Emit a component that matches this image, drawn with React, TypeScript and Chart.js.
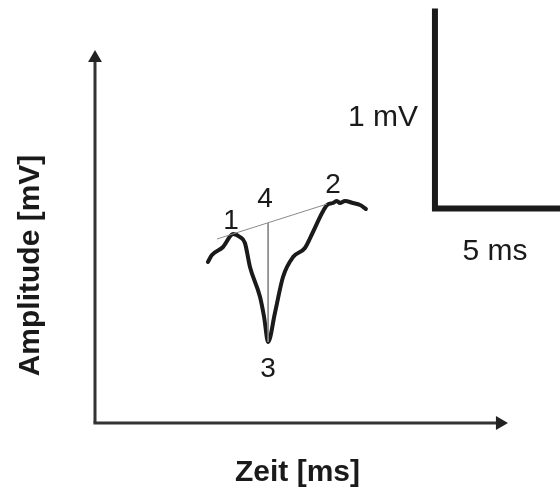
import React, { useEffect, useRef } from 'react';
import { Chart, registerables } from 'chart.js';

Chart.register(...registerables);

// Recorded waveform (time in ms, amplitude in mV)
const timeMs = [4.48, 4.64, 5.08, 5.48, 5.75, 5.95, 6.15, 6.55, 6.71, 6.87, 7.14, 7.46, 7.86, 8.33, 8.65, 9.01, 9.21, 9.44, 9.6, 9.72, 9.92, 10.24, 10.52, 10.75];
const amplitudeMv = [0.805, 0.84, 0.88, 0.945, 0.93, 0.9, 0.78, 0.63, 0.53, 0.405, 0.55, 0.73, 0.83, 0.875, 0.955, 1.05, 1.09, 1.1, 1.11, 1.1, 1.11, 1.1, 1.09, 1.07];

// Baseline between the two peaks (1 -> 2) and the marker at the trough (4 -> 3)
const baselineMs = [4.84, 9.21];
const baselineMv = [0.92, 1.095];
const markerMs = [6.87, 6.87];
const markerMv = [1.0, 0.405];

// Axis extents (arrow heads)
const axisXMaxMs = 16.07;
const axisYMaxMv = 1.825;

// Scale bar
const scaleBarOriginMs = 13.49;
const scaleBarOriginMv = 1.0725;
const scaleBarMs = 5;
const scaleBarMv = 1;

const pointLabels = ['1', '2', '3', '4'];
const scaleBarLabels = ['1 mV', '5 ms'];
const axisTitles = ['Zeit [ms]', 'Amplitude [mV]'];

const FONT = '"Liberation Sans", Arial, Helvetica, sans-serif';
const INK = '#1a1a1a';

const textPlugin = {
  id: 'figureTexts',
  afterDatasetsDraw(chart: any) {
    const { ctx, scales } = chart;
    const x = scales.x;
    const y = scales.y;
    const px = (v: number) => x.getPixelForValue(v);
    const py = (v: number) => y.getPixelForValue(v);
    ctx.save();
    ctx.fillStyle = INK;
    ctx.textBaseline = 'alphabetic';

    // point labels
    ctx.font = `28px ${FONT}`;
    ctx.textAlign = 'center';
    const peak1 = 3;
    const peak2 = 18;
    const trough = 9;
    ctx.fillText(pointLabels[0], px(timeMs[peak1]) - 2, py(amplitudeMv[peak1]) - 5);
    ctx.fillText(pointLabels[1], px(timeMs[peak2]) - 4, py(amplitudeMv[peak2]) - 8);
    ctx.fillText(pointLabels[2], px(timeMs[trough]), py(amplitudeMv[trough]) + 35);
    ctx.fillText(pointLabels[3], px(markerMs[0]) - 3, py(markerMv[0]) - 16);

    // scale bar labels
    ctx.font = `30px ${FONT}`;
    const bx = px(scaleBarOriginMs);
    const by = py(scaleBarOriginMv);
    const byTop = py(scaleBarOriginMv + scaleBarMv);
    const bxRight = px(scaleBarOriginMs + scaleBarMs);
    ctx.textAlign = 'right';
    ctx.fillText(scaleBarLabels[0], bx - 17, (by + byTop) / 2 + 17);
    ctx.textAlign = 'center';
    ctx.fillText(scaleBarLabels[1], (bx + bxRight) / 2 - 3, by + 51);

    // axis titles
    ctx.font = `bold 30px ${FONT}`;
    const x0 = px(0);
    const y0 = py(0);
    ctx.textAlign = 'center';
    ctx.fillText(axisTitles[0], (x0 + px(axisXMaxMs)) / 2, y0 + 58);
    ctx.save();
    ctx.translate(x0 - 56, (y0 + py(axisYMaxMv)) / 2 + 25);
    ctx.rotate(-Math.PI / 2);
    ctx.textAlign = 'center';
    ctx.fillText(axisTitles[1], 0, 0);
    ctx.restore();

    ctx.restore();
  },
};

export default function App() {
  const canvasRef = useRef<HTMLCanvasElement | null>(null);

  useEffect(() => {
    const canvas = canvasRef.current;
    if (!canvas) return;
    const toPts = (xs: number[], ys: number[]) => xs.map((v, i) => ({ x: v, y: ys[i] }));

    const chart = new Chart(canvas, {
      type: 'scatter',
      data: {
        datasets: [
          {
            label: 'y axis',
            data: [{ x: 0, y: 0 }, { x: 0, y: axisYMaxMv }],
            showLine: true,
            borderColor: '#333333',
            borderWidth: 3,
            borderCapStyle: 'butt',
            pointRadius: [0, 8],
            pointStyle: 'triangle',
            pointRotation: 0,
            pointBackgroundColor: '#222222',
            pointBorderWidth: 0,
            clip: false,
          } as any,
          {
            label: 'x axis',
            data: [{ x: -0.06, y: 0 }, { x: axisXMaxMs, y: 0 }],
            showLine: true,
            borderColor: '#333333',
            borderWidth: 3,
            borderCapStyle: 'butt',
            pointRadius: [0, 8],
            pointStyle: 'triangle',
            pointRotation: 90,
            pointBackgroundColor: '#222222',
            pointBorderWidth: 0,
            clip: false,
          } as any,
          {
            label: 'baseline',
            data: toPts(baselineMs, baselineMv),
            showLine: true,
            borderColor: '#8a8a8a',
            borderWidth: 1,
            pointRadius: 0,
          } as any,
          {
            label: 'marker',
            data: toPts(markerMs, markerMv),
            showLine: true,
            borderColor: '#8a8a8a',
            borderWidth: 1,
            pointRadius: 0,
          } as any,
          {
            label: 'signal',
            data: toPts(timeMs, amplitudeMv),
            showLine: true,
            borderColor: INK,
            borderWidth: 4,
            borderCapStyle: 'round',
            borderJoinStyle: 'round',
            cubicInterpolationMode: 'monotone',
            pointRadius: 0,
          } as any,
          {
            label: 'scale bar',
            data: [
              { x: scaleBarOriginMs, y: scaleBarOriginMv + scaleBarMv },
              { x: scaleBarOriginMs, y: scaleBarOriginMv },
              { x: scaleBarOriginMs + scaleBarMs, y: scaleBarOriginMv },
            ],
            showLine: true,
            borderColor: INK,
            borderWidth: 6,
            borderCapStyle: 'butt',
            borderJoinStyle: 'miter',
            pointRadius: 0,
            clip: false,
          } as any,
        ],
      },
      options: {
        animation: false,
        responsive: false,
        events: [],
        layout: { padding: 0, autoPadding: false },
        plugins: {
          legend: { display: false },
          tooltip: { enabled: false },
        },
        scales: {
          x: { type: 'linear', display: false, min: -95 / 25.2, max: 465 / 25.2 },
          y: { type: 'linear', display: false, min: -65 / 200, max: 423 / 200 },
        },
      } as any,
      plugins: [textPlugin],
    });
    return () => chart.destroy();
  }, []);

  return (
    <div style={{ position: 'fixed', left: 0, top: 0, width: 560, height: 488, background: '#ffffff' }}>
      <canvas ref={canvasRef} width={560} height={488} style={{ display: 'block', width: 560, height: 488 }} />
    </div>
  );
}
